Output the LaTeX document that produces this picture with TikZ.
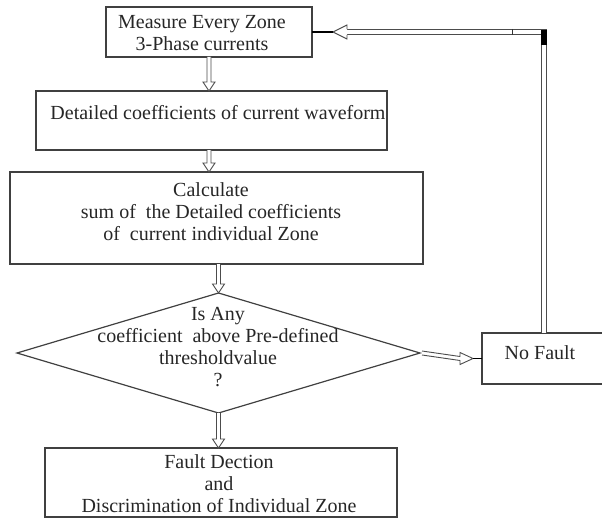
\documentclass[tikz,border=0pt]{standalone}
\usepackage{fontspec}
\setmainfont{Liberation Serif}
\usetikzlibrary{shapes.geometric,calc}
\newcommand\hollowdown[2]{%
  \draw[arr] ($(#1)+(-2,0)$) -- ($(#2)+(-2,-9)$) -- ($(#2)+(-6,-9)$) -- (#2) -- ($(#2)+(6,-9)$) -- ($(#2)+(2,-9)$) -- ($(#1)+(2,0)$);}
\begin{document}
\begin{tikzpicture}[x=1pt,y=-1pt,
  box/.style={draw=black!75,line width=1.2pt,inner sep=0pt,outer sep=0pt},
  lbl/.style={font=\fontsize{20}{22}\selectfont,align=center,inner sep=0pt,text=black!85},
  arr/.style={draw=black!70,line width=0.9pt,fill=white,line join=miter},
  dbl/.style={draw=black!70,line width=0.9pt,double=white,double distance=4pt},
  stub/.style={draw=black,line width=1.2pt}]
\useasboundingbox (0,0) rectangle (602,519);
% boxes
\node[box,minimum width=206,minimum height=50] (b1) at (209,32) {};
\node[box,minimum width=351,minimum height=59] (b2) at (211.5,120.5) {};
\node[box,minimum width=413,minimum height=92] (b3) at (216.5,218) {};
\node[box,diamond,minimum width=403,minimum height=120] (d) at (218.5,353) {};
\node[box,minimum width=124,minimum height=51] (nf) at (544,358.5) {};
\node[box,minimum width=352,minimum height=69] (fd) at (221,482.5) {};
% texts
\node[lbl] (t1) at (202,33) {Measure Every Zone\\3-Phase currents};
\node[lbl] (t2) at (218,113) {Detailed coefficients of current waveform};
\node[lbl] (t3) at (211,212) {Calculate\\sum of \ the Detailed coefficients\\of \ current individual Zone};
\node[lbl] (t4) at (218,347) {Is Any\\coefficient \ above Pre-defined\\thresholdvalue\\?};
\node[lbl] (t5) at (540,353) {No Fault};
\node[lbl] (t6) at (219,484) {Fault Dection\\and\\Discrimination of Individual Zone};
% vertical arrows
\coordinate (e1) at (b1.south |- b2.north);
\hollowdown{b1.south}{e1}
\coordinate (s2) at (b2.south -| b1.south);
\coordinate (e2) at (s2 |- b3.north);
\hollowdown{s2}{e2}
\coordinate (s3) at (d.north |- b3.south);
\hollowdown{s3}{d.north}
\coordinate (e4) at (d.south |- fd.north);
\hollowdown{d.south}{e4}
% diamond to No Fault
\coordinate (tipA) at ($(nf.west)+(-9,0)$);
\draw[arr] ($(d.east)+(2,-2)$) -- ($(tipA)+(-13,-2)$) -- ($(tipA)+(-13,-6)$) -- (tipA) -- ($(tipA)+(-13,6)$) -- ($(tipA)+(-13,2)$) -- ($(d.east)+(2,2)$);
\draw[stub] (tipA) -- (nf.west);
% feedback No Fault to first box
\coordinate (fbtip) at ($(b1.east)+(21,0)$);
\coordinate (corner) at (nf.north |- b1.east);
\draw[dbl] (nf.north) -- (corner) -- ($(fbtip)+(14,0)$);
\draw[arr] ($(fbtip)+(14,-2.9)$) -- ($(fbtip)+(14,-7)$) -- (fbtip) -- ($(fbtip)+(14,7)$) -- ($(fbtip)+(14,2.9)$);
\draw[stub] (fbtip) -- (b1.east);
\fill[black] ($(corner)+(-3,-2)$) rectangle ($(corner)+(3,13)$);
\draw[draw=black!80,line width=0.8pt] ($(corner)+(-32,-3)$) -- ($(corner)+(-32,3)$);
\end{tikzpicture}
\end{document}
